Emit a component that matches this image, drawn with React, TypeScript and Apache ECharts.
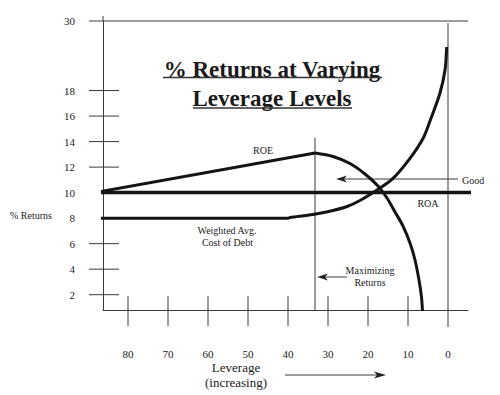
import React, { useEffect, useRef } from "react";
import * as echarts from "echarts";

// ---- data ----
const xTickValues = [80, 70, 60, 50, 40, 30, 20, 10, 0];
const yLabelValues = [2, 4, 6, 8, 10, 12, 14, 16, 18];
const yTickMarks = [2, 4, 6, 12, 14, 16, 18];
const yTopLabel = "30";

// Return on assets: flat at 10%
const roaValues: [number, number][] = [
  [88.25, 10],
  [-6.25, 10],
];

// Return on equity: rises linearly with leverage up to its peak, then falls sharply
const roeValues: [number, number][] = [
  [88.25, 10.0],
  [33.25, 13.1],
  [28.75, 12.83],
  [24.5, 12.28],
  [20.75, 11.46],
  [17.5, 10.52],
  [15.25, 9.58],
  [13.25, 8.48],
  [11.25, 7.38],
  [9.5, 6.05],
  [8.25, 4.72],
  [7.25, 3.15],
  [6.63, 1.82],
  [6.38, 0.72],
];
const roePeakIndex = 1;

// Weighted average cost of debt: flat at 8%, then rises steeply
const debtCostValues: [number, number][] = [
  [89.75, 8.0],
  [40, 8.0],
  [39.5, 8.05],
  [33.75, 8.28],
  [28.75, 8.6],
  [25.25, 8.91],
  [22, 9.38],
  [17.75, 10.2],
  [13.75, 11.12],
  [9.5, 12.69],
  [6.25, 14.24],
  [4.5, 15.61],
  [2, 17.81],
  [0.75, 19.61],
  [0.33, 21.41],
];

const maxReturnsLeverage = 33.25;
const maxReturnsMarkerTop = 14.3;

// ---- axis extents ----
const X_MIN = -5;
const X_MAX = 86.25;
const Y_MIN = 0.8;
const Y_MAX = 23.45;

const SERIF = '"Liberation Serif", "Times New Roman", serif';
const INK = "#141414";
const THIN = "#3a3a3a";

export default function App() {
  const ref = useRef<HTMLDivElement>(null);

  useEffect(() => {
    if (!ref.current) return;
    const chart = echarts.init(ref.current, undefined, { renderer: "svg" });

    const thinStyle = { stroke: THIN, lineWidth: 1 };
    const textStyle = (text: string, size: number, align = "center", weight = "normal") => ({
      text,
      font: `${weight} ${size}px ${SERIF}`,
      fill: "#1a1a1a",
      align,
      verticalAlign: "middle",
    });

    const option: any = {
      animation: false,
      backgroundColor: "#ffffff",
      grid: {
        left: 103,
        right: 32,
        top: 21,
        bottom: 85,
        containLabel: false,
        outerBoundsMode: "none",
      },
      xAxis: {
        type: "value",
        min: X_MIN,
        max: X_MAX,
        inverse: true,
        axisLine: { show: true, onZero: false, lineStyle: { color: THIN, width: 1 } },
        axisTick: { show: false },
        splitLine: { show: false },
        axisLabel: {
          customValues: xTickValues,
          margin: 38,
          color: "#222",
          fontSize: 11,
          fontFamily: SERIF,
        },
      },
      yAxis: {
        type: "value",
        min: Y_MIN,
        max: Y_MAX,
        axisLine: { show: true, onZero: false, lineStyle: { color: THIN, width: 1 } },
        axisTick: { show: false },
        splitLine: { show: false },
        axisLabel: {
          customValues: [...yLabelValues, Y_MAX],
          formatter: (v: number) => (v === Y_MAX ? yTopLabel : String(v)),
          margin: 28,
          color: "#222",
          fontSize: 11,
          fontFamily: SERIF,
        },
      },
      series: [
        {
          name: "ROA",
          type: "line",
          data: roaValues,
          symbol: "none",
          clip: false,
          lineStyle: { color: INK, width: 3.5 },
          z: 3,
        },
        {
          name: "ROE",
          type: "line",
          data: roeValues.slice(0, roePeakIndex + 1),
          symbol: "none",
          clip: false,
          lineStyle: { color: INK, width: 3 },
          z: 3,
        },
        {
          name: "ROE",
          type: "line",
          data: roeValues.slice(roePeakIndex),
          symbol: "none",
          clip: false,
          smooth: 0.3,
          lineStyle: { color: INK, width: 3 },
          z: 3,
        },
        {
          name: "Weighted Avg. Cost of Debt",
          type: "line",
          data: debtCostValues,
          symbol: "none",
          clip: false,
          smooth: 0.3,
          lineStyle: { color: INK, width: 3 },
          z: 3,
        },
        {
          name: "Maximizing Returns",
          type: "line",
          data: [
            [maxReturnsLeverage, maxReturnsMarkerTop],
            [maxReturnsLeverage, Y_MIN],
          ],
          symbol: "none",
          clip: false,
          lineStyle: { color: THIN, width: 1 },
          z: 2,
        },
        {
          name: "frame",
          type: "custom",
          clip: false,
          silent: true,
          data: [[X_MAX, Y_MIN]],
          renderItem: (_params: any, api: any) => {
            const children: any[] = [];
            for (const v of yTickMarks) {
              const p = api.coord([X_MAX, v]);
              children.push({
                type: "line",
                shape: { x1: p[0] - 14, y1: p[1], x2: p[0] + 16, y2: p[1] },
                style: thinStyle,
              });
            }
            const top = api.coord([X_MAX, Y_MAX]);
            const topRight = api.coord([X_MIN, Y_MAX]);
            children.push({
              type: "line",
              shape: { x1: top[0] - 14, y1: top[1], x2: topRight[0], y2: top[1] },
              style: thinStyle,
            });
            children.push({
              type: "line",
              shape: { x1: top[0], y1: top[1] - 5, x2: top[0], y2: top[1] },
              style: thinStyle,
            });
            for (const v of xTickValues) {
              const p = api.coord([v, Y_MIN]);
              if (v === 0) {
                const t = api.coord([v, Y_MAX]);
                children.push({
                  type: "line",
                  shape: { x1: p[0], y1: t[1] + 2, x2: p[0], y2: p[1] + 17 },
                  style: thinStyle,
                });
              } else {
                children.push({
                  type: "line",
                  shape: { x1: p[0], y1: p[1] - 14, x2: p[0], y2: p[1] + 16 },
                  style: thinStyle,
                });
              }
            }
            return { type: "group", children };
          },
          z: 1,
        },
      ],
      graphic: [
        // Title
        { type: "text", x: 272, y: 69, style: textStyle("% Returns at Varying", 23, "center", "bold") },
        { type: "text", x: 272, y: 98.5, style: textStyle("Leverage Levels", 23, "center", "bold") },
        { type: "line", shape: { x1: 163, y1: 77.5, x2: 382, y2: 77.5 }, style: { stroke: "#333", lineWidth: 1.4 } },
        { type: "line", shape: { x1: 193, y1: 108, x2: 352, y2: 108 }, style: { stroke: "#333", lineWidth: 1.4 } },
        // Series labels
        { type: "text", x: 263, y: 150.5, style: textStyle("ROE", 10) },
        { type: "text", x: 428, y: 203, style: textStyle("ROA", 10) },
        { type: "text", x: 227, y: 230.5, style: textStyle("Weighted Avg.", 10) },
        { type: "text", x: 227.5, y: 242, style: textStyle("Cost of Debt", 10) },
        { type: "text", x: 462, y: 180.5, style: textStyle("Good", 10, "left") },
        { type: "text", x: 370, y: 270, style: textStyle("Maximizing", 10) },
        { type: "text", x: 370, y: 282, style: textStyle("Returns", 10) },
        { type: "text", x: 10, y: 215, style: textStyle("% Returns", 10, "left") },
        { type: "text", x: 236, y: 367, style: textStyle("Leverage", 13) },
        { type: "text", x: 236, y: 382, style: textStyle("(increasing)", 13) },
        // Arrows
        { type: "line", shape: { x1: 340, y1: 179, x2: 458, y2: 179 }, style: { stroke: THIN, lineWidth: 1 } },
        { type: "polygon", shape: { points: [[336, 179], [347, 175.5], [344, 179], [347, 182.5]] }, style: { fill: "#222" } },
        { type: "line", shape: { x1: 321, y1: 277, x2: 347, y2: 277 }, style: { stroke: THIN, lineWidth: 1 } },
        { type: "polygon", shape: { points: [[317, 277], [328, 273.5], [325, 277], [328, 280.5]] }, style: { fill: "#222" } },
        { type: "line", shape: { x1: 285, y1: 375, x2: 382, y2: 375 }, style: { stroke: THIN, lineWidth: 1 } },
        { type: "polygon", shape: { points: [[386, 375], [374, 371.5], [377, 375], [374, 378.5]] }, style: { fill: "#222" } },
      ],
    };

    chart.setOption(option);
    return () => chart.dispose();
  }, []);

  return (
    <div
      ref={ref}
      style={{ position: "fixed", left: 0, top: 0, width: 500, height: 395, background: "#fff" }}
    />
  );
}
